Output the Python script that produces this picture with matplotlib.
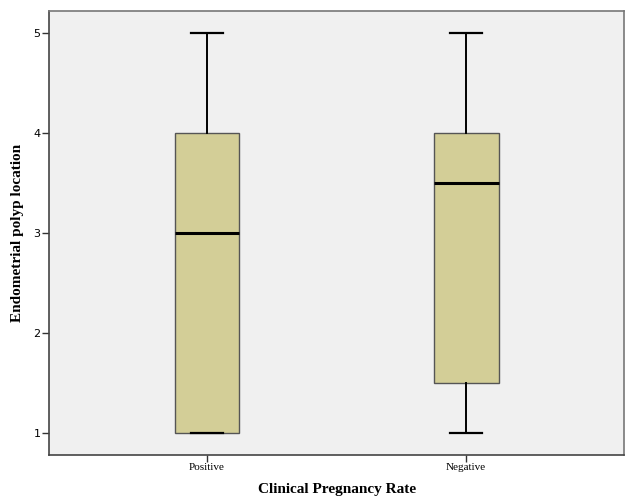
import matplotlib.pyplot as plt

# Box plot summary values
groups = ['Positive', 'Negative']
whisker_low = [1, 1]
q1 = [1, 1.5]
medians = [3, 3.5]
q3 = [4, 4]
whisker_high = [5, 5]
y_ticks = [1, 2, 3, 4, 5]

stats = []
for i, name in enumerate(groups):
    stats.append({
        'label': name,
        'whislo': whisker_low[i],
        'q1': q1[i],
        'med': medians[i],
        'q3': q3[i],
        'whishi': whisker_high[i],
        'fliers': [],
    })

fig = plt.figure(figsize=(6.28, 4.98), dpi=100)
ax = fig.add_axes([0.078, 0.0863, 0.916, 0.892])
ax.set_facecolor('#F0F0F0')

ax.bxp(
    stats,
    positions=[1, 2],
    widths=0.25,
    patch_artist=True,
    showfliers=False,
    boxprops=dict(facecolor='#D3CE97', edgecolor='#555555', linewidth=1.0),
    medianprops=dict(color='black', linewidth=2.2),
    whiskerprops=dict(color='black', linewidth=1.4),
    capprops=dict(color='black', linewidth=1.6),
    capwidths=0.125,
)

ax.set_xlim(0.39, 2.61)
ax.set_ylim(0.78, 5.22)
ax.set_yticks(y_ticks)
ax.set_yticklabels([str(t) for t in y_ticks], fontsize=8, family='DejaVu Sans')
ax.set_xticks([1, 2])
ax.set_xticklabels(groups, fontsize=8, family='Liberation Serif')
ax.tick_params(axis='both', length=5, width=1, color='#333333', pad=1)

for side in ['left', 'bottom']:
    ax.spines[side].set_color('#444444')
    ax.spines[side].set_linewidth(1.2)
for side in ['top', 'right']:
    ax.spines[side].set_color('#777777')
    ax.spines[side].set_linewidth(1.2)

ax.set_ylabel('Endometrial polyp location', fontsize=11, fontweight='bold',
              family='Liberation Serif')
ax.set_xlabel('Clinical Pregnancy Rate', fontsize=11, fontweight='bold',
              family='Liberation Serif')
ax.yaxis.set_label_coords(-0.043, 0.5)
ax.xaxis.set_label_coords(0.5, -0.063)

fig.savefig('out.png', dpi=100)
